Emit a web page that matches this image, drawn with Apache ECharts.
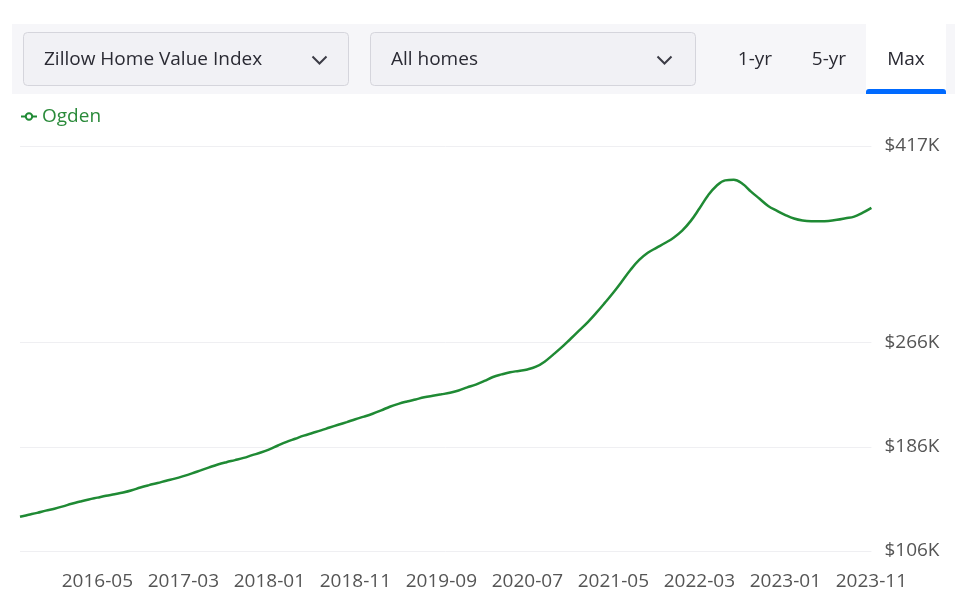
<!DOCTYPE html>
<html>
<head>
<meta charset="utf-8">
<script src="https://cdn.jsdelivr.net/npm/echarts@6/dist/echarts.min.js"></script>
<style>
html,body{margin:0;padding:0;background:#fff;}
#chart{width:963px;height:603px;}
</style>
</head>
<body>
<div id="chart"></div>
<script>
// Months 2015-08 .. 2023-11
const months = [
  '2015-08','2015-09','2015-10','2015-11','2015-12',
  '2016-01','2016-02','2016-03','2016-04','2016-05','2016-06','2016-07','2016-08','2016-09','2016-10','2016-11','2016-12',
  '2017-01','2017-02','2017-03','2017-04','2017-05','2017-06','2017-07','2017-08','2017-09','2017-10','2017-11','2017-12',
  '2018-01','2018-02','2018-03','2018-04','2018-05','2018-06','2018-07','2018-08','2018-09','2018-10','2018-11','2018-12',
  '2019-01','2019-02','2019-03','2019-04','2019-05','2019-06','2019-07','2019-08','2019-09','2019-10','2019-11','2019-12',
  '2020-01','2020-02','2020-03','2020-04','2020-05','2020-06','2020-07','2020-08','2020-09','2020-10','2020-11','2020-12',
  '2021-01','2021-02','2021-03','2021-04','2021-05','2021-06','2021-07','2021-08','2021-09','2021-10','2021-11','2021-12',
  '2022-01','2022-02','2022-03','2022-04','2022-05','2022-06','2022-07','2022-08','2022-09','2022-10','2022-11','2022-12',
  '2023-01','2023-02','2023-03','2023-04','2023-05','2023-06','2023-07','2023-08','2023-09','2023-10','2023-11'
];

// Ogden home value index, thousands of dollars
const ogden = [
  132.3,133.8,135.3,137.0,138.5,
  140.3,142.3,144.0,145.6,147.0,148.4,149.6,150.9,152.6,154.8,156.6,158.2,
  160.0,161.6,163.5,165.6,167.9,170.2,172.4,174.2,175.8,177.5,179.6,181.6,
  184.0,187.0,189.8,192.2,194.6,196.6,198.6,200.8,202.9,205.0,207.2,209.2,
  211.4,214.0,216.8,219.0,220.8,222.4,224.0,225.2,226.3,227.5,229.3,231.6,
  233.8,236.6,239.6,241.6,243.3,244.3,245.4,247.5,251.4,256.8,262.5,268.8,
  275.2,281.6,288.8,296.5,304.5,313.2,322.0,329.5,335.0,338.8,342.5,346.6,
  352.0,359.5,369.0,379.0,386.5,390.6,391.0,388.0,382.0,376.5,371.0,367.3,
  364.0,361.3,359.8,359.3,359.3,359.5,360.3,361.5,362.8,365.8,369.5
];

const yTicks = [106, 186, 266, 417];
const xLabelEvery = 10;
const xLabelOffset = 9;

const FONT = '"Open Sans", "Noto Sans", sans-serif';
const FS = 19;
const chart = echarts.init(document.getElementById('chart'), null, {renderer: 'canvas'});

function chevron(cx, cy) {
  return {
    type: 'polyline',
    shape: {points: [[cx - 7, cy - 3.5], [cx, cy + 3.5], [cx + 7, cy - 3.5]]},
    style: {stroke: '#3c3c46', lineWidth: 2, fill: null},
    z: 10
  };
}

function uiText(x, y, txt, align) {
  return {type: 'text', x: x, y: y, z: 3,
    style: {text: txt, font: FS + 'px ' + FONT, fill: '#2a2a33', align: align || 'left', verticalAlign: 'middle'}};
}

const option = {
  animation: false,
  backgroundColor: '#ffffff',
  graphic: [
    {type: 'rect', shape: {x: 12, y: 24, width: 943, height: 70}, style: {fill: '#f6f6f9'}, z: 1},
    {type: 'rect', shape: {x: 23.5, y: 32.5, width: 325, height: 53, r: 4}, style: {fill: '#f1f1f5', stroke: '#d5d5dc', lineWidth: 1}, z: 2},
    uiText(44, 60, 'Zillow Home Value Index'),
    chevron(319.5, 60),
    {type: 'rect', shape: {x: 370.5, y: 32.5, width: 325, height: 53, r: 4}, style: {fill: '#f1f1f5', stroke: '#d5d5dc', lineWidth: 1}, z: 2},
    uiText(391, 60, 'All homes'),
    chevron(664.5, 60),
    uiText(755, 60, '1-yr', 'center'),
    uiText(829, 60, '5-yr', 'center'),
    {type: 'rect', shape: {x: 866, y: 24, width: 80, height: 70}, style: {fill: '#ffffff'}, z: 2},
    {type: 'rect', shape: {x: 866, y: 89, width: 80, height: 5, r: [3, 3, 0, 0]}, style: {fill: '#006aff'}, z: 3},
    uiText(906, 60, 'Max', 'center')
  ],
  legend: {
    left: 15,
    top: 102,
    itemWidth: 16,
    itemHeight: 8,
    itemGap: 6,
    textStyle: {color: '#2a8a3a', fontSize: FS, fontFamily: FONT},
    data: ['Ogden']
  },
  grid: {left: 20, right: 91.6, top: 146, bottom: 52, containLabel: false},
  xAxis: {
    type: 'category',
    data: months,
    boundaryGap: false,
    axisLine: {show: false},
    axisTick: {show: false},
    splitLine: {show: false},
    axisLabel: {
      interval: function (idx) { return idx % xLabelEvery === xLabelOffset; },
      color: '#555555',
      fontSize: FS,
      fontFamily: FONT,
      margin: 21
    }
  },
  yAxis: {
    type: 'value',
    position: 'right',
    min: yTicks[0],
    max: yTicks[yTicks.length - 1],
    axisLine: {show: false},
    axisTick: {show: false, customValues: yTicks},
    axisLabel: {
      customValues: yTicks,
      formatter: function (v) { return '$' + v + 'K'; },
      color: '#555555',
      fontSize: FS,
      fontFamily: FONT,
      margin: 13
    },
    splitLine: {show: false}
  },
  series: [{
    name: 'Ogden',
    type: 'line',
    data: ogden,
    smooth: 0.4,
    symbol: 'emptyCircle',
    symbolSize: 6,
    showSymbol: false,
    lineStyle: {color: '#1f8a34', width: 2.5},
    itemStyle: {color: '#1f8a34'},
    markLine: {
      silent: true,
      symbol: 'none',
      label: {show: false},
      lineStyle: {color: '#efeff2', width: 1, type: 'solid'},
      z: 1,
      data: yTicks.map(function (v) { return {yAxis: v, x: 20, x2: 873}; })
    },
    z: 5
  }]
};
chart.setOption(option);
</script>
</body>
</html>
